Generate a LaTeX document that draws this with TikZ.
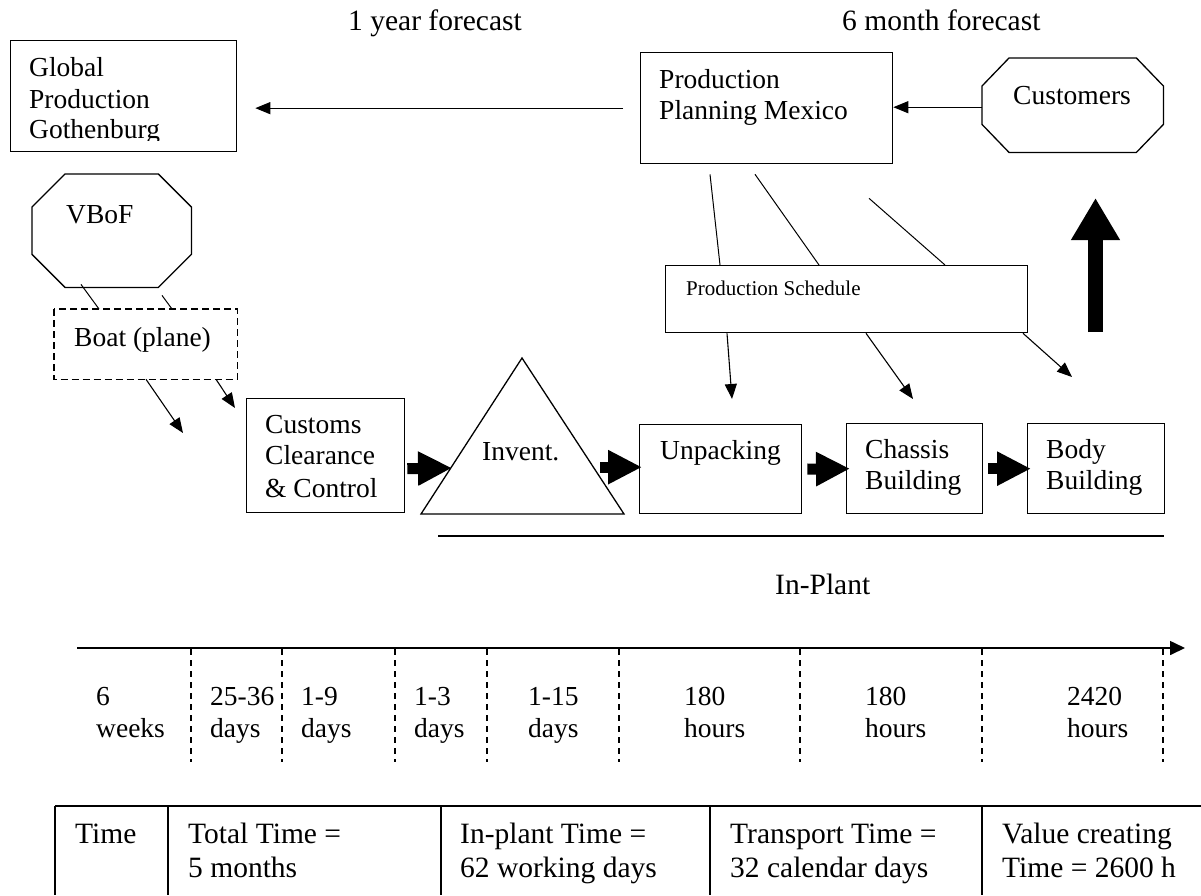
\documentclass[tikz,border=0pt]{standalone}
\usepackage{fontspec}
\setmainfont{Liberation Serif}
\usetikzlibrary{arrows.meta,calc}
\begin{document}
\begin{tikzpicture}[x=1pt,y=-1pt,
  box/.style={draw, line width=1.3pt, rectangle, inner sep=0pt, anchor=north west},
  ghost/.style={rectangle, inner sep=0pt, anchor=north west},
  txt/.style={anchor=base west, inner sep=0pt, font=\fontsize{27.5}{31.5}\selectfont},
  bigtxt/.style={txt, font=\fontsize{29.5}{34}\selectfont},
  smalltxt/.style={txt, font=\fontsize{21}{24}\selectfont},
  flow/.style={line width=1.1pt, -{Triangle[length=15pt,width=12pt]}},
  link/.style={line width=1pt},
  fat/.style={line width=11pt, -{Triangle[length=34pt,width=32pt]}},
  tick/.style={line width=1.2pt, dash pattern=on 6pt off 5pt},
  rule/.style={line width=1.7pt},
]
\useasboundingbox (0,0) rectangle (1201,895);

% ---------- headings ----------
\node[bigtxt] (hyear)  at (348,30) {1 year forecast};
\node[bigtxt] (hmonth) at (842,30) {6 month forecast};

% ---------- boxes ----------
\node[box, minimum width=226pt, minimum height=111pt] (glob) at (10,40) {};
\node[box, minimum width=252pt, minimum height=111pt] (pp) at (640,52) {};
\node[box, minimum width=362pt, minimum height=67pt] (ps) at (665,265) {};
\node[box, draw=none, minimum width=182pt, minimum height=69pt] (boat) at (54,309) {};
\draw[line width=1.3pt, dash pattern=on 7pt off 4pt] (boat.north west) rectangle (boat.south east);
\node[box, minimum width=158pt, minimum height=114pt] (customs) at (246,398) {};
\node[box, minimum width=162pt, minimum height=89pt] (unp) at (639,424) {};
\node[box, minimum width=136pt, minimum height=90pt] (chas) at (846,423) {};
\node[box, minimum width=137pt, minimum height=90pt] (body) at (1027,423) {};

% octagons
\node[ghost, minimum width=159pt, minimum height=113pt] (vbof) at (32,174) {};
\draw[line width=1.3pt]
  ($(vbof.north west)+(33,0)$) -- ($(vbof.north east)+(-33,0)$) --
  ($(vbof.north east)+(0,33)$) -- ($(vbof.south east)+(0,-33)$) --
  ($(vbof.south east)+(-33,0)$) -- ($(vbof.south west)+(33,0)$) --
  ($(vbof.south west)+(0,-33)$) -- ($(vbof.north west)+(0,33)$) -- cycle;
\node[ghost, minimum width=181pt, minimum height=94pt] (cust) at (982,58) {};
\draw[line width=1.3pt]
  ($(cust.north west)+(27,0)$) -- ($(cust.north east)+(-27,0)$) --
  ($(cust.north east)+(0,28)$) -- ($(cust.south east)+(0,-28)$) --
  ($(cust.south east)+(-27,0)$) -- ($(cust.south west)+(27,0)$) --
  ($(cust.south west)+(0,-28)$) -- ($(cust.north west)+(0,28)$) -- cycle;

% inventory triangle
\coordinate (inv-top) at (522,358);
\coordinate (inv-left) at (421,514);
\coordinate (inv-right) at (624,514);
\draw[line width=1.3pt, line join=miter] (inv-left) -- (inv-top) -- (inv-right) -- cycle;

% ---------- box texts ----------
\begin{scope}
  \clip (10,40) rectangle (236,140);
  \node[txt] (glob-1) at (29,76)  {Global};
  \node[txt] (glob-2) at (29,108) {Production};
  \node[txt] (glob-3) at (29,138) {Gothenburg};
\end{scope}
\node[txt] (pp-1) at (659,88)  {Production};
\node[txt] (pp-2) at (659,119) {Planning Mexico};
\node[txt] (cust-1) at (1013,104) {Customers};
\node[txt] (vbof-1) at (66,223) {VBoF};
\node[txt] (boat-1) at (74,346) {Boat (plane)};
\node[smalltxt] (ps-1) at (686,295) {Production Schedule};
\node[txt] (cus-1) at (265,433) {Customs};
\node[txt] (cus-2) at (265,464) {Clearance};
\node[txt] (cus-3) at (265,497) {\& Control};
\node[txt] (inv-1) at (482,460) {Invent.};
\node[txt] (unp-1) at (660,459) {Unpacking};
\node[txt] (chas-1) at (865,458) {Chassis};
\node[txt] (chas-2) at (865,489) {Building};
\node[txt] (body-1) at (1046,458) {Body};
\node[txt] (body-2) at (1046,489) {Building};

% ---------- information flow ----------
\draw[flow] ($(pp.west)+(-17,0)$) -- ($(pp.west -| glob.east)+(18,0)$);
\draw[flow] ($(cust.west)+(0,2)$) -- ($(cust.west -| pp.east)+(0,2)$);
\draw[link] ($(pp.south west)+(70,10)$)  -- ($(ps.north west)+(55,0)$);
\draw[link] ($(pp.south west)+(115,10)$) -- ($(ps.north west)+(154,0)$);
\draw[link] ($(pp.south west)+(229,34)$) -- ($(ps.north west)+(280,0)$);
\draw[flow] ($(ps.south west)+(62,0)$)  -- ($(unp.north west)+(93,-25)$);
\draw[flow] ($(ps.south west)+(201,0)$) -- ($(chas.north west)+(67,-24)$);
\draw[flow] ($(ps.south west)+(358,0)$) -- ($(body.north west)+(45,-46)$);

% ---------- material flow ----------
\draw[link] ($(vbof.south west)+(49,-3)$) -- ($(boat.north west)+(45,0)$);
\draw[link] ($(vbof.south west)+(130,8)$) -- ($(boat.north west)+(118,0)$);
\coordinate (boat-out) at (183,433);
\draw[flow] ($(boat.south west)+(92,0)$) -- (boat-out);
\draw[flow] ($(boat.south west)+(162,0)$) -- ($(customs.north west)+(-11,10)$);
\coordinate (inv-in) at (452,468);
\draw[fat] ($(customs.east)+(2,13)$) -- (inv-in);
\draw[fat] ($(unp.west)+(-39,-2)$) -- ($(unp.west)+(3,-2)$);
\draw[fat] ($(unp.east)+(5,0)$) -- ($(chas.west)+(4,0)$);
\draw[fat] ($(chas.east)+(5,0)$) -- ($(body.west)+(4,0)$);
\coordinate (ship-s) at (1095.5,332);
\coordinate (ship-e) at (1095.5,198);
\draw[line width=15pt, -{Triangle[length=42pt,width=46pt]}] (ship-s) -- (ship-e);

% in-plant bracket
\coordinate (plant-a) at (438,536);
\coordinate (plant-b) at (1164,536);
\draw[line width=1.8pt] (plant-a) -- (plant-b);
\node[bigtxt] (plant) at (775,594) {In-Plant};

% ---------- time line ----------
\coordinate (axis-a) at (77,648);
\coordinate (axis-b) at (1185,648);
\draw[line width=1.6pt, -{Triangle[length=15pt,width=14pt]}] (axis-a) -- (axis-b);
\foreach \x [count=\i] in {191,282,395,487,619,800,982,1163}
  \draw[tick] (\x,649) -- (\x,762);
\foreach \x/\a/\b [count=\i] in {96/6/weeks, 210/25-36/days, 301/1-9/days,
    414/1-3/days, 528/1-15/days, 684/180/hours, 865/180/hours, 1067/2420/hours}{
  \node[txt] (tl-\i-a) at (\x,705) {\a};
  \node[txt] (tl-\i-b) at (\x,737) {\b};
}

% ---------- summary table ----------
\draw[rule] (55,806) -- (1201,806);
\foreach \x in {55,168,441,710,982}
  \draw[rule] (\x,806) -- (\x,895);
\node[bigtxt] (tb-0)  at (75,843)   {Time};
\node[bigtxt] (tb-1a) at (188,843)  {Total Time =};
\node[bigtxt] (tb-1b) at (188,877)  {5 months};
\node[bigtxt] (tb-2a) at (460,843)  {In-plant Time =};
\node[bigtxt] (tb-2b) at (460,877)  {62 working days};
\node[bigtxt] (tb-3a) at (730,843)  {Transport Time =};
\node[bigtxt] (tb-3b) at (730,877)  {32 calendar days};
\node[bigtxt] (tb-4a) at (1002,843) {Value creating};
\node[bigtxt] (tb-4b) at (1002,877) {Time = 2600 h};
\end{tikzpicture}
\end{document}
